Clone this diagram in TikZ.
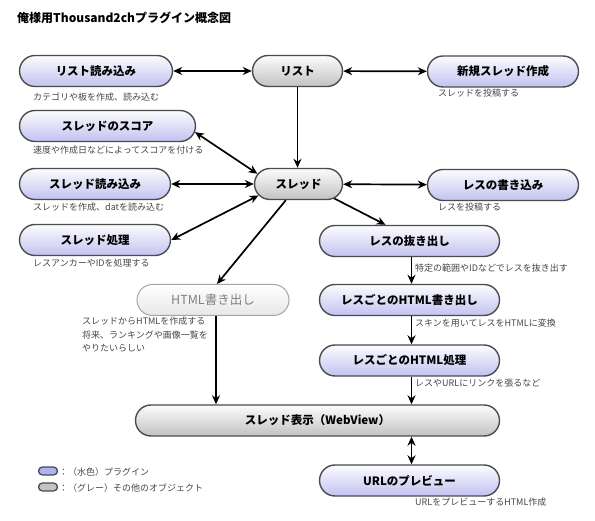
\documentclass[tikz,border=0pt]{standalone}
\usepackage{fontspec}
\setmainfont{Noto Sans CJK JP}
\usetikzlibrary{shapes.misc,arrows.meta}

\definecolor{plugtop}{RGB}{252,252,255}
\definecolor{plugbot}{RGB}{194,194,240}
\definecolor{objtop}{RGB}{252,252,252}
\definecolor{objbot}{RGB}{194,194,194}
\definecolor{edgegray}{RGB}{75,75,75}
\definecolor{notegray}{RGB}{70,70,70}
\definecolor{legblue}{RGB}{176,176,244}
\definecolor{leggray}{RGB}{196,196,196}

\tikzset{
  box/.style={rounded rectangle, draw=edgegray, line width=1.4pt, minimum height=31pt, inner sep=2pt,
    font=\fontsize{11.5}{13}\selectfont\bfseries},
  plugin/.style={box, top color=plugtop, bottom color=plugbot},
  other/.style={box, top color=objtop, bottom color=objbot},
  faded/.style={box, draw=gray!70, line width=1pt, top color=white, bottom color=blue!5!gray!18,
    text=gray, font=\fontsize{12.5}{14}\selectfont},
  note/.style={anchor=west, inner sep=0pt, text=notegray, font=\fontsize{9}{13.5}\selectfont},
  legend/.style={rounded rectangle, draw=edgegray, line width=1.3pt, minimum width=19pt, minimum height=8pt, inner sep=0pt},
  link/.style={-{Stealth[length=9pt,width=8pt]}, line width=1.7pt},
  both/.style={{Stealth[length=9pt,width=8pt]}-{Stealth[length=9pt,width=8pt]}, line width=1.7pt},
}

\begin{document}
\begin{tikzpicture}[x=1pt,y=-1pt]
  \useasboundingbox (0,0) rectangle (595,521);

  \node[anchor=west, inner sep=0pt, font=\fontsize{12}{14}\selectfont\bfseries] (title) at (17,18) {俺様用Thousand2chプラグイン概念図};

  % nodes
  \node[plugin, minimum width=157pt] (lstread) at (96,71) {リスト読み込み};
  \node[other, minimum width=94pt] (list) at (297.5,71) {リスト};
  \node[plugin, minimum width=155pt] (newthr) at (503,71.5) {新規スレッド作成};
  \node[plugin, minimum width=180pt] (score) at (107.5,126) {スレッドのスコア};
  \node[plugin, minimum width=155pt] (thrread) at (95,184) {スレッド読み込み};
  \node[other, minimum width=92pt] (thread) at (298.5,184) {スレッド};
  \node[plugin, minimum width=155pt] (resw) at (503,185) {レスの書き込み};
  \node[plugin, minimum width=155pt] (thrproc) at (95,240) {スレッド処理};
  \node[plugin, minimum width=184pt] (extract) at (409.5,241) {レスの抜き出し};
  \node[faded, minimum width=156pt] (html) at (213,300) {HTML書き出し};
  \node[plugin, minimum width=184pt] (reshtml) at (409.5,300) {レスごとのHTML書き出し};
  \node[plugin, minimum width=184pt] (resproc) at (409.5,360.5) {レスごとのHTML処理};
  \node[other, minimum width=368pt] (view) at (317.5,420.5) {スレッド表示（WebView）};
  \node[plugin, minimum width=184pt] (preview) at (409.5,480.5) {URLのプレビュー};

  % notes
  \node[note] (nlstread) at (33,97) {カテゴリや板を作成、読み込む};
  \node[note] (nnewthr) at (438,93) {スレッドを投稿する};
  \node[note] (nscore) at (33,150) {速度や作成日などによってスコアを付ける};
  \node[note] (nthrread) at (33,207) {スレッドを作成、datを読み込む};
  \node[note] (nresw) at (438,207) {レスを投稿する};
  \node[note] (nthrproc) at (33,263) {レスアンカーやIDを処理する};
  \node[note] (nextract) at (415,268) {特定の範囲やIDなどでレスを抜き出す};
  \node[note, anchor=north west, align=left] (nhtml) at (82,317) {スレッドからHTMLを作成する\\将来、ランキングや画像一覧を\\やりたいらしい};
  \node[note] (nreshtml) at (415,323) {スキンを用いてレスをHTMLに変換};
  \node[note] (nresproc) at (415,383) {レスやURLにリンクを張るなど};
  \node[note] (npreview) at (415,502) {URLをプレビューするHTML作成};

  % legend
  \node[legend, fill=legblue] (lgplug) at (48,471) {};
  \node[note] (lgplugtxt) at (59,472) {：（水色）プラグイン};
  \node[legend, fill=leggray] (lgobj) at (48,487) {};
  \node[note] (lgobjtxt) at (59,488) {：（グレー）その他のオブジェクト};

  % arrows
  \draw[both] (lstread) -- (list);
  \draw[both] (list) -- (newthr);
  \draw[link] (list.south) -- (list.south |- thread.north);
  \draw[both] (score.-4) -- (thread.166);
  \draw[both] (thrread) -- (thread);
  \draw[both] (thrproc.east) -- (thread.196);
  \draw[both] (thread) -- (resw);
  \draw[link] (thread.338) -- ([xshift=-24pt]extract.north);
  \draw[link] (thread.232) -- ([xshift=4pt]html.north);
  \draw[link] ([xshift=3pt]html.south) -- ([xshift=3pt]html.south |- view.north);
  \draw[link] ([xshift=2pt]extract.south) -- ([xshift=2pt]reshtml.north);
  \draw[link] ([xshift=2pt]reshtml.south) -- ([xshift=2pt]resproc.north);
  \draw[link] ([xshift=2pt]resproc.south) -- ([xshift=2pt]resproc.south |- view.north);
  \draw[both] ([xshift=2pt]preview.north |- view.south) -- ([xshift=2pt]preview.north);
\end{tikzpicture}
\end{document}
